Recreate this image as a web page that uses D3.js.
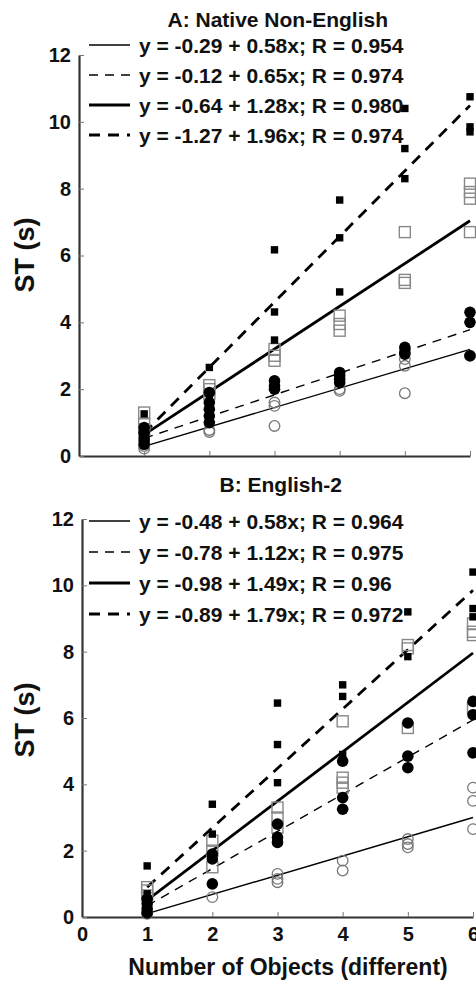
<!DOCTYPE html>
<html>
<head>
<meta charset="utf-8">
<script src="https://cdn.jsdelivr.net/npm/d3@7"></script>
<style>
    body { margin: 0; background: #fff; }
    svg { display: block; font-family: "Liberation Sans", Arial, Helvetica, sans-serif; font-weight: bold; }
</style>
</head>
<body>
<div id="chart"></div>
<script>
// Declare constants
const canvas = { w: 476, h: 982 };
const xLevels = [1, 2, 3, 4, 5, 6];
const xTicks = [0, 1, 2, 3, 4, 5, 6];
const yTicks = [0, 2, 4, 6, 8, 10, 12];

// Panel A: Native Non-English (values per x level)
const aOpenCircle   = [[0.3, 0.22], [0.78, 0.72], [1.6, 1.5, 0.9], [2.0, 1.95], [2.9, 2.7, 1.88], [3.0]];
const aFilledCircle = [[0.85, 0.7, 0.55, 0.45, 0.35], [1.9, 1.6, 1.4, 1.2, 1.0], [2.25, 2.1, 2.0], [2.5, 2.4, 2.3, 2.2], [3.25, 3.1, 3.05], [4.3, 4.0, 3.0]];
const aOpenSquare   = [[1.3, 0.95, 0.8], [2.12, 2.0, 1.85], [3.2, 3.0, 2.85], [4.2, 3.95, 3.75], [6.7, 5.27, 5.18], [8.15, 7.9, 7.7, 6.7]];
const aFilledSquare = [[1.26, 0.8, 0.6], [2.65, 1.7], [6.17, 4.31, 3.47], [7.66, 6.53, 4.91], [10.4, 9.2, 8.3], [10.75, 9.85, 9.7]];
const aFitA = [-0.29, -0.12, -0.64, -1.27];
const aFitB = [0.58, 0.65, 1.28, 1.96];
const aLabels = ["y = -0.29 + 0.58x; R = 0.954", "y = -0.12 + 0.65x; R = 0.974",
                 "y = -0.64 + 1.28x; R = 0.980", "y = -1.27 + 1.96x; R = 0.974"];

// Panel B: English-2
const bOpenCircle   = [[0.15, 0.1], [0.6], [1.3, 1.15, 1.05], [1.7, 1.4], [2.35, 2.2, 2.1], [3.9, 3.5, 2.65]];
const bFilledCircle = [[0.55, 0.4, 0.25, 0.12], [1.9, 1.75, 1.0], [2.8, 2.4, 2.25], [4.7, 3.6, 3.25], [5.85, 4.85, 4.5], [6.5, 6.1, 4.95]];
const bOpenSquare   = [[0.9, 0.8, 0.65], [2.3, 2.0, 1.5], [3.3, 3.0, 2.7], [5.9, 4.2, 4.05, 3.9], [8.2, 8.1, 5.7], [8.85, 8.6, 8.5, 6.3]];
const bFilledSquare = [[1.54, 0.7, 0.4], [3.4, 2.5], [6.45, 5.2, 4.05], [7.0, 6.65, 4.9], [9.2, 7.85], [10.4, 9.3, 9.05]];
const bFitA = [-0.48, -0.78, -0.98, -0.89];
const bFitB = [0.58, 1.12, 1.49, 1.79];
const bLabels = ["y = -0.48 + 0.58x; R = 0.964", "y = -0.78 + 1.12x; R = 0.975",
                 "y = -0.98 + 1.49x; R = 0.96", "y = -0.89 + 1.79x; R = 0.972"];

// line style per series: open circle, filled circle, open square, filled square
const lineStyle = [
    { w: 1.4, dash: null },
    { w: 1.4, dash: "9,7" },
    { w: 2.8, dash: null },
    { w: 2.8, dash: "11,8" }
];

const panels = [
    {
        title: "A: Native Non-English", titleY: 27,
        x: d3.scaleLinear([0, 6], [79, 470]), y: d3.scaleLinear([0, 12], [456, 55]),
        series: [aOpenCircle, aFilledCircle, aOpenSquare, aFilledSquare],
        fitA: aFitA, fitB: aFitB, labels: aLabels,
        legendY: 45, legendStep: 30, xLabels: false, yTitle: 255
    },
    {
        title: "B: English-2", titleY: 492,
        x: d3.scaleLinear([0, 6], [82, 473]), y: d3.scaleLinear([0, 12], [917, 519]),
        series: [bOpenCircle, bFilledCircle, bOpenSquare, bFilledSquare],
        fitA: bFitA, fitB: bFitB, labels: bLabels,
        legendY: 521, legendStep: 31, xLabels: true, yTitle: 720
    }
];

const svg = d3.select("#chart")
    .append("svg")
    .attr("width", canvas.w)
    .attr("height", canvas.h);

function flatten(series) {
    const pts = [];
    series.forEach((vals, i) => vals.forEach(v => pts.push({ n: xLevels[i], v: v })));
    return pts;
}

panels.forEach(p => {
    const g = svg.append("g");

    // axes
    const xAxis = d3.axisBottom(p.x)
        .tickValues(xTicks)
        .tickSizeInner(-5)
        .tickSizeOuter(0)
        .tickPadding(10)
        .tickFormat(p.xLabels ? d3.format("d") : "");
    const yAxis = d3.axisLeft(p.y)
        .tickValues(yTicks)
        .tickSizeInner(-5)
        .tickSizeOuter(0)
        .tickPadding(8);

    const gx = g.append("g")
        .attr("transform", `translate(0,${p.y(0)})`)
        .call(xAxis);
    const gy = g.append("g")
        .attr("transform", `translate(${p.x(0)},0)`)
        .call(yAxis);

    [gx, gy].forEach(a => {
        a.select(".domain").attr("stroke", "#333").attr("stroke-width", 2.2);
        a.selectAll(".tick line").attr("stroke", "#777").attr("stroke-width", 1);
        a.selectAll(".tick text")
            .attr("fill", "#111")
            .style("font-size", "20px")
            .style("font-weight", "bold")
            .style("font-family", "'Liberation Sans', Arial, sans-serif");
    });
    gx.selectAll(".tick").filter(d => d === 0).select("line").remove();

    // titles
    g.append("text")
        .attr("x", p.x(3.05))
        .attr("y", p.titleY)
        .attr("text-anchor", "middle")
        .style("font-size", "21px")
        .attr("fill", "#111")
        .text(p.title);

    g.append("text")
        .attr("transform", `translate(34,${p.yTitle}) rotate(-90)`)
        .attr("text-anchor", "middle")
        .style("font-size", "27px")
        .attr("fill", "#111")
        .text("ST (s)");

    // fit lines
    g.selectAll("line.fit")
        .data(d3.range(4))
        .enter()
        .append("line")
        .attr("class", "fit")
        .attr("x1", p.x(1))
        .attr("x2", p.x(6))
        .attr("y1", i => p.y(p.fitA[i] + p.fitB[i] * 1))
        .attr("y2", i => p.y(p.fitA[i] + p.fitB[i] * 6))
        .attr("stroke", "#000")
        .attr("stroke-width", i => lineStyle[i].w)
        .attr("stroke-dasharray", i => lineStyle[i].dash);

    // markers
    g.selectAll("circle.oc")
        .data(flatten(p.series[0]))
        .enter()
        .append("circle")
        .attr("class", "oc")
        .attr("cx", d => p.x(d.n))
        .attr("cy", d => p.y(d.v))
        .attr("r", 5.3)
        .attr("fill", "none")
        .attr("stroke", "#777")
        .attr("stroke-width", 1.3);

    g.selectAll("rect.os")
        .data(flatten(p.series[2]))
        .enter()
        .append("rect")
        .attr("class", "os")
        .attr("x", d => p.x(d.n) - 5.5)
        .attr("y", d => p.y(d.v) - 5.5)
        .attr("width", 11)
        .attr("height", 11)
        .attr("fill", "none")
        .attr("stroke", "#888")
        .attr("stroke-width", 1.4);

    g.selectAll("circle.fc")
        .data(flatten(p.series[1]))
        .enter()
        .append("circle")
        .attr("class", "fc")
        .attr("cx", d => p.x(d.n))
        .attr("cy", d => p.y(d.v))
        .attr("r", 5.8)
        .attr("fill", "#000");

    g.selectAll("rect.fs")
        .data(flatten(p.series[3]))
        .enter()
        .append("rect")
        .attr("class", "fs")
        .attr("x", d => p.x(d.n) - 3.7)
        .attr("y", d => p.y(d.v) - 3.7)
        .attr("width", 7.4)
        .attr("height", 7.4)
        .attr("fill", "#000");

    // legend
    const legend = g.append("g");
    p.labels.forEach((label, i) => {
        const ly = p.legendY + i * p.legendStep;
        legend.append("line")
            .attr("x1", 89)
            .attr("x2", 130)
            .attr("y1", ly)
            .attr("y2", ly)
            .attr("stroke", "#000")
            .attr("stroke-width", lineStyle[i].w)
            .attr("stroke-dasharray", lineStyle[i].dash);
        legend.append("text")
            .attr("x", 139)
            .attr("y", ly + 7.5)
            .style("font-size", "21px")
            .attr("fill", "#111")
            .text(label);
    });
});

// x axis title
svg.append("text")
    .attr("x", 288)
    .attr("y", 975)
    .attr("text-anchor", "middle")
    .style("font-size", "23px")
    .attr("fill", "#111")
    .text("Number of Objects (different)");
</script>
</body>
</html>
